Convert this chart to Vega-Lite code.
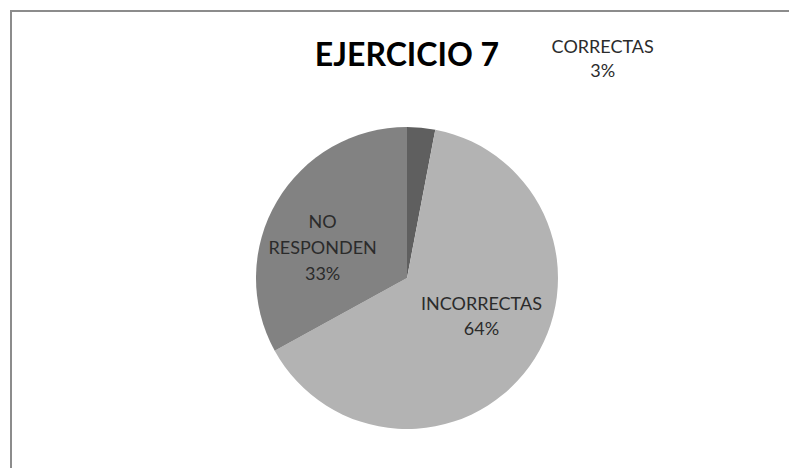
{
  "$schema": "https://vega.github.io/schema/vega-lite/v6.json",
  "autosize": {"type": "none"},
  "padding": {"left": 11, "top": 11, "right": 0, "bottom": 0},
  "width": 792,
  "height": 534,
  "background": "white",
  "view": {"stroke": "#8c8c8c", "strokeWidth": 2, "fill": "white"},
  "title": {
    "text": "EJERCICIO 7",
    "orient": "top",
    "anchor": "middle",
    "frame": "group",
    "baseline": "alphabetic",
    "offset": 0,
    "dy": 87,
    "font": "Lato",
    "fontSize": 32,
    "fontWeight": "bold",
    "color": "#000000"
  },
  "data": {
    "values": [
      {"categoria": "CORRECTAS", "valor": 3, "etiqueta": "CORRECTAS\n3%"},
      {"categoria": "INCORRECTAS", "valor": 64, "etiqueta": "INCORRECTAS\n64%"},
      {"categoria": "NO RESPONDEN", "valor": 33, "etiqueta": "NO\nRESPONDEN\n33%"}
    ]
  },
  "encoding": {
    "theta": {"field": "valor", "type": "quantitative", "stack": true},
    "order": {"field": "categoria", "sort": "ascending"}
  },
  "layer": [
    {
      "mark": {"type": "arc", "outerRadius": 151, "stroke": null},
      "encoding": {
        "color": {
          "field": "categoria",
          "type": "nominal",
          "scale": {
            "domain": ["CORRECTAS", "INCORRECTAS", "NO RESPONDEN"],
            "range": ["#5f5f5f", "#b3b3b3", "#828282"]
          },
          "legend": null
        }
      }
    },
    {
      "mark": {"type": "text", "radius": 220, "dx": 175, "dy": -11, "fontSize": 18, "font": "Lato", "lineBreak": "\n", "lineHeight": 24, "align": "center", "baseline": "middle", "color": "#2b2b2b"},
      "encoding": {
        "text": {"condition": {"test": "datum.categoria === 'CORRECTAS'", "field": "etiqueta"}, "value": ""}
      }
    },
    {
      "mark": {"type": "text", "radius": 92, "dy": -27, "fontSize": 18, "font": "Lato", "lineBreak": "\n", "lineHeight": 25, "align": "center", "baseline": "middle", "color": "#2b2b2b"},
      "encoding": {
        "text": {"condition": {"test": "datum.categoria === 'INCORRECTAS'", "field": "etiqueta"}, "value": ""}
      }
    },
    {
      "mark": {"type": "text", "radius": 98, "dy": -5, "fontSize": 18, "font": "Lato", "lineBreak": "\n", "lineHeight": 26, "align": "center", "baseline": "middle", "color": "#2b2b2b"},
      "encoding": {
        "text": {"condition": {"test": "datum.categoria === 'NO RESPONDEN'", "field": "etiqueta"}, "value": ""}
      }
    }
  ]
}
